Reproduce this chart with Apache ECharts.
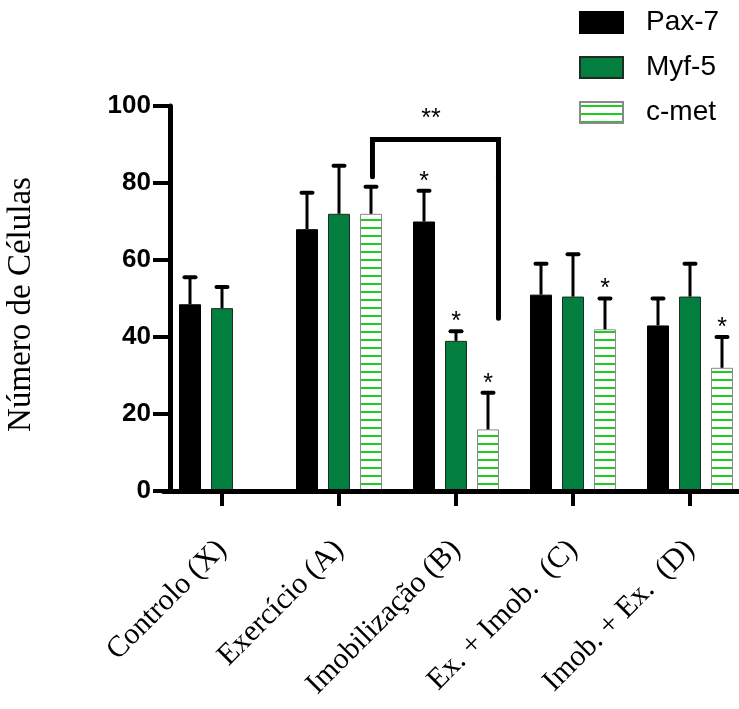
<!DOCTYPE html>
<html><head><meta charset="utf-8">
<script src="https://cdn.jsdelivr.net/npm/echarts@6/dist/echarts.min.js"></script>
<style>html,body{margin:0;padding:0;background:#fff}#c{width:739px;height:709px}</style>
</head><body><div id="c"></div>
<script>
const categories = ['Controlo (X)', 'Exercício (A)', 'Imobilização (B)', 'Ex. + Imob.  (C)', 'Imob. + Ex.  (D)'];
const seriesNames = ['Pax-7', 'Myf-5', 'c-met'];
const pax7 = [48.5, 68, 70, 51, 43];
const pax7Err = [7, 9.5, 8, 8, 7];
const myf5 = [47.5, 72, 39, 50.5, 50.5];
const myf5Err = [5.5, 12.5, 2.5, 11, 8.5];
const cmet = [null, 72, 16, 42, 32];
const cmetErr = [null, 7, 9.5, 8, 8];
const pax7Sig = ['', '', '*', '', ''];
const myf5Sig = ['', '', '*', '', ''];
const cmetSig = ['', '', '*', '*', '*'];
const yTicks = [0, 20, 40, 60, 80, 100];
// significance bracket in (category-position, value) units
const bracketX = [1.786, 1.786, 2.863, 2.863];
const bracketY = [81.6, 91.3, 91.3, 44.9];
const bracketText = '**';
const bracketTextPos = [2.286, 96.6];

const chart = echarts.init(document.getElementById('c'), null, {renderer: 'canvas'});
const barW = 22, barGapPx = 10;

// striped pattern for c-met
const pc = document.createElement('canvas');
pc.width = 8; pc.height = 8;
const pctx = pc.getContext('2d');
pctx.fillStyle = '#ffffff'; pctx.fillRect(0, 0, 8, 8);
pctx.fillStyle = '#1ccc1c'; pctx.fillRect(0, 3, 8, 2);
const stripe = {image: pc, repeat: 'repeat'};

const vals = [pax7, myf5, cmet];
const errs = [pax7Err, myf5Err, cmetErr];
const sigs = [pax7Sig, myf5Sig, cmetSig];
const errData = [], errSig = [];
for (let s = 0; s < 3; s++) {
  for (let c = 0; c < categories.length; c++) {
    if (vals[s][c] == null) continue;
    errData.push([c, s, vals[s][c], errs[s][c]]);
    errSig.push(sigs[s][c]);
  }
}

const option = {
  animation: false,
  grid: {left: 163.5, top: 106, width: 585, height: 385, outerBoundsMode: 'none', containLabel: false},
  legend: {
    data: seriesNames, orient: 'vertical', left: 579, top: 7.5, padding: 0,
    icon: 'rect', itemWidth: 43, itemHeight: 21, itemGap: 15,
    textStyle: {fontFamily: 'Liberation Sans', fontSize: 28, color: '#000', lineHeight: 30, padding: [0, 0, 0, 18]}
  },
  xAxis: [{
    type: 'category', data: categories, boundaryGap: true,
    axisLine: {show: true, lineStyle: {color: '#000', width: 5}},
    axisTick: {show: true, alignWithLabel: true, length: 15, lineStyle: {color: '#000', width: 4}},
    axisLabel: {rotate: 45, margin: 54, fontFamily: 'Liberation Serif', fontSize: 30, color: '#000', interval: 0},
    z: 5
  }, {
    type: 'value', min: 0, max: 5, show: false
  }],
  yAxis: {
    type: 'value', min: 0, max: 100, interval: 20, offset: -6.5,
    name: 'Número de Células', nameLocation: 'middle', nameGap: 132,
    nameTextStyle: {fontFamily: 'Liberation Serif', fontSize: 33, color: '#000', padding: [0, 12, 0, 0]},
    axisLine: {show: true, lineStyle: {color: '#000', width: 5}},
    axisTick: {show: true, length: 17, lineStyle: {color: '#000', width: 4}},
    axisLabel: {margin: 19, fontFamily: 'Liberation Sans', fontWeight: 'bold', fontSize: 26, color: '#000',
      formatter: v => yTicks.includes(v) ? String(v) : ''},
    splitLine: {show: false},
    z: 5
  },
  series: [
    {name: 'Pax-7', type: 'bar', data: pax7, barWidth: barW, barGap: (barGapPx / barW * 100) + '%',
      itemStyle: {color: '#000', borderColor: '#000', borderWidth: 1}},
    {name: 'Myf-5', type: 'bar', data: myf5, barWidth: barW, barGap: (barGapPx / barW * 100) + '%',
      itemStyle: {color: '#027f3f', borderColor: '#1d2d22', borderWidth: 1}},
    {name: 'c-met', type: 'bar', data: cmet, barWidth: barW, barGap: (barGapPx / barW * 100) + '%',
      itemStyle: {color: stripe, borderColor: '#8a8a8a', borderWidth: 1}},
    {type: 'custom', data: errData, z: 4, silent: true,
      renderItem: function (params, api) {
        const c = api.value(0), s = api.value(1), v = api.value(2), e = api.value(3);
        const base = api.coord([c, v]);
        const top = api.coord([c, v + e]);
        const x = base[0] + (s - 1) * (barW + barGapPx);
        const children = [
          {type: 'line', shape: {x1: x, y1: base[1], x2: x, y2: top[1]}, style: {stroke: '#000', lineWidth: 3}},
          {type: 'line', shape: {x1: x - 5.5, y1: top[1], x2: x + 5.5, y2: top[1]}, style: {stroke: '#000', lineWidth: 4, lineCap: 'round'}}
        ];
        const sg = errSig[params.dataIndex];
        if (sg) {
          children.push({type: 'text', x: x, y: top[1] - 9,
            style: {text: sg, fontFamily: 'Liberation Sans', fontSize: 25, fill: '#000', align: 'center', verticalAlign: 'middle'}});
        }
        return {type: 'group', children: children};
      }
    },
    {type: 'line', xAxisIndex: 1, data: bracketX.map((x, i) => [x, bracketY[i]]), symbol: 'none', silent: true,
      lineStyle: {color: '#000', width: 5, cap: 'round', join: 'miter'}, z: 4},
    {type: 'custom', xAxisIndex: 1, data: [bracketTextPos], silent: true, z: 4,
      renderItem: function (params, api) {
        const p = api.coord([api.value(0), api.value(1)]);
        return {type: 'text', x: p[0], y: p[1],
          style: {text: bracketText, fontFamily: 'Liberation Sans', fontSize: 25, fill: '#000', align: 'center', verticalAlign: 'middle'}};
      }
    }
  ]
};
chart.setOption(option);
</script>
</body></html>
